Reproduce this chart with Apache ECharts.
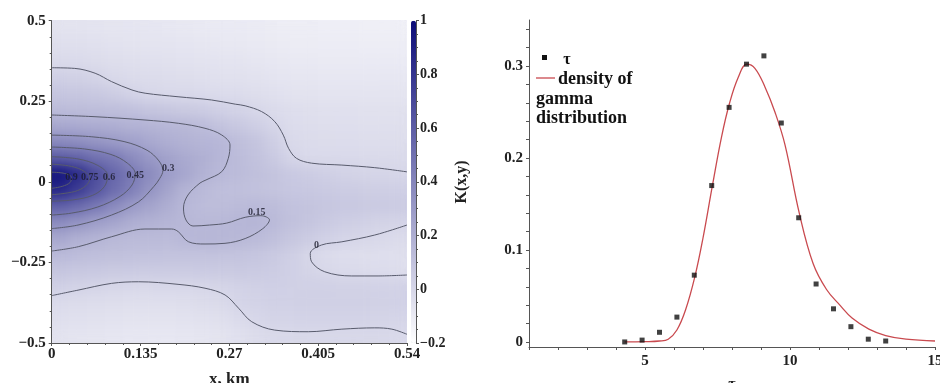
<!DOCTYPE html>
<html><head><meta charset="utf-8">
<script src="https://cdn.jsdelivr.net/npm/echarts@6/dist/echarts.min.js"></script>
<style>html,body{margin:0;padding:0;background:#fff}#c{width:940px;height:383px;position:relative}</style>
</head><body>
<svg width="0" height="0" style="position:absolute">
  <filter id="smooth" x="0" y="0" width="100%" height="100%" color-interpolation-filters="sRGB">
    <feGaussianBlur stdDeviation="6"/>
    <feComponentTransfer><feFuncA type="table" tableValues="1 1"/></feComponentTransfer>
  </filter>
</svg>
<div id="c"></div>
<script>
// ---------- Left panel: K(x,y) field (cell centres) ----------
const heatX = [0.0135,0.0405,0.0675,0.0945,0.1215,0.1485,0.1755,0.2025,0.2295,0.2565,0.2835,0.3105,0.3375,0.3645,0.3915,0.4185,0.4455,0.4725,0.4995,0.5265];
const heatY = [-0.475,-0.425,-0.375,-0.325,-0.275,-0.225,-0.175,-0.125,-0.075,-0.025,0.025,0.075,0.125,0.175,0.225,0.275,0.325,0.375,0.425,0.475];
const heatK = [
 [-0.06,-0.065,-0.07,-0.075,-0.08,-0.08,-0.08,-0.075,-0.07,-0.06,-0.045,-0.025,-0.01,-0.005,-0.005,-0.005,-0.005,-0.005,-0.005,-0.01],
 [-0.04,-0.045,-0.05,-0.055,-0.06,-0.06,-0.06,-0.055,-0.05,-0.04,-0.02,0.0,0.012,0.015,0.015,0.015,0.015,0.015,0.012,0.008],
 [-0.02,-0.025,-0.03,-0.035,-0.04,-0.04,-0.04,-0.035,-0.025,-0.015,0.005,0.015,0.025,0.03,0.03,0.03,0.03,0.03,0.028,0.025],
 [0.03,0.022,0.012,0.004,-0.004,-0.006,-0.004,0.0,0.004,0.012,0.022,0.03,0.035,0.036,0.034,0.03,0.028,0.028,0.026,0.024],
 [0.085,0.078,0.07,0.064,0.06,0.058,0.058,0.058,0.06,0.063,0.065,0.06,0.05,0.035,0.012,-0.006,-0.018,-0.024,-0.028,-0.03],
 [0.14,0.13,0.122,0.116,0.11,0.105,0.1,0.1,0.1,0.1,0.095,0.085,0.065,0.042,0.003,-0.02,-0.03,-0.035,-0.038,-0.04],
 [0.23,0.19,0.17,0.145,0.138,0.134,0.132,0.15,0.16,0.162,0.152,0.135,0.11,0.082,0.052,0.025,0.006,-0.002,-0.01,-0.02],
 [0.37,0.33,0.28,0.245,0.2,0.18,0.165,0.152,0.146,0.152,0.16,0.165,0.14,0.11,0.085,0.06,0.042,0.03,0.018,0.01],
 [0.58,0.53,0.46,0.38,0.3,0.25,0.2,0.15,0.13,0.125,0.135,0.14,0.125,0.105,0.09,0.08,0.07,0.065,0.06,0.055],
 [0.86,0.76,0.64,0.52,0.43,0.33,0.25,0.17,0.14,0.12,0.11,0.1,0.09,0.08,0.07,0.06,0.05,0.045,0.04,0.035],
 [0.95,0.84,0.68,0.55,0.46,0.38,0.29,0.24,0.18,0.15,0.13,0.11,0.09,0.07,0.05,0.035,0.02,0.012,0.006,0.002],
 [0.6,0.57,0.5,0.46,0.38,0.31,0.26,0.22,0.19,0.16,0.13,0.1,0.06,0.01,-0.01,-0.012,-0.014,-0.015,-0.015,-0.015],
 [0.38,0.36,0.33,0.3,0.27,0.23,0.2,0.18,0.165,0.155,0.12,0.09,0.04,-0.005,-0.02,-0.025,-0.028,-0.03,-0.03,-0.03],
 [0.225,0.22,0.21,0.2,0.18,0.17,0.16,0.152,0.13,0.1,0.07,0.04,0.005,-0.02,-0.03,-0.035,-0.038,-0.04,-0.04,-0.04],
 [0.13,0.128,0.122,0.115,0.105,0.088,0.075,0.064,0.05,0.033,0.015,0.0,-0.02,-0.03,-0.04,-0.045,-0.048,-0.05,-0.05,-0.05],
 [0.08,0.075,0.067,0.048,0.017,-0.003,-0.01,-0.014,-0.018,-0.022,-0.028,-0.035,-0.045,-0.055,-0.06,-0.065,-0.065,-0.065,-0.065,-0.065],
 [0.03,0.028,0.012,-0.01,-0.02,-0.025,-0.03,-0.035,-0.04,-0.045,-0.05,-0.058,-0.066,-0.072,-0.076,-0.08,-0.082,-0.082,-0.082,-0.082],
 [-0.015,-0.018,-0.025,-0.035,-0.042,-0.048,-0.052,-0.056,-0.06,-0.064,-0.068,-0.075,-0.082,-0.088,-0.092,-0.095,-0.097,-0.098,-0.098,-0.098],
 [-0.04,-0.043,-0.048,-0.055,-0.06,-0.065,-0.068,-0.072,-0.076,-0.08,-0.085,-0.09,-0.096,-0.1,-0.104,-0.107,-0.108,-0.11,-0.11,-0.11],
 [-0.06,-0.062,-0.066,-0.07,-0.074,-0.078,-0.082,-0.086,-0.09,-0.094,-0.098,-0.102,-0.106,-0.11,-0.113,-0.116,-0.118,-0.12,-0.12,-0.12]
];

// contour lines [x, y]
const contour0Top = [[0,0.354],[0.035,0.352],[0.066,0.337],[0.091,0.311],[0.122,0.285],[0.142,0.275],[0.192,0.264],[0.243,0.254],[0.279,0.241],[0.294,0.236],[0.319,0.218],[0.339,0.187],[0.352,0.145],[0.360,0.104],[0.372,0.073],[0.395,0.058],[0.441,0.052],[0.491,0.044],[0.54,0.031]];
const contour0Bottom = [[0,-0.353],[0.040,-0.336],[0.091,-0.315],[0.132,-0.310],[0.192,-0.318],[0.233,-0.330],[0.2635,-0.351],[0.284,-0.392],[0.304,-0.434],[0.339,-0.460],[0.390,-0.465],[0.441,-0.457],[0.491,-0.453],[0.517,-0.457],[0.54,-0.473]];
const contour0Right = [[0.54,-0.134],[0.491,-0.165],[0.441,-0.186],[0.410,-0.196],[0.393,-0.222],[0.395,-0.248],[0.415,-0.279],[0.456,-0.292],[0.496,-0.292],[0.54,-0.289]];
const contour015 = [[0,0.2074],[0.0658,0.2021],[0.1418,0.1919],[0.1924,0.1817],[0.233,0.1662],[0.2584,0.1454],[0.271,0.1144],[0.2684,0.0731],[0.2584,0.0315],[0.2345,0.0058],[0.2254,-0.0036],[0.2071,-0.0408],[0.2003,-0.0811],[0.2041,-0.1184],[0.2147,-0.137],[0.24,-0.134],[0.266,-0.128],[0.294,-0.11],[0.318,-0.105],[0.331,-0.118],[0.321,-0.145],[0.294,-0.176],[0.2634,-0.1907],[0.233,-0.1928],[0.2076,-0.1857],[0.1924,-0.1547],[0.1824,-0.1463],[0.1418,-0.1463],[0.0912,-0.1702],[0.0404,-0.2012],[0,-0.2146]];
const contour03 = [[0,0.145],[0.06,0.14],[0.11,0.125],[0.145,0.098],[0.163,0.065],[0.169,0.035],[0.164,0.01],[0.155,-0.015],[0.132,-0.062],[0.091,-0.103],[0.04,-0.134],[0,-0.145]];
const contour045 = [[0,0.108],[0.05,0.102],[0.09,0.085],[0.115,0.058],[0.127,0.025],[0.122,-0.01],[0.104,-0.045],[0.07,-0.078],[0.03,-0.097],[0,-0.103]];
const contour06 = [[0,0.078],[0.04,0.071],[0.07,0.051],[0.085,0.02],[0.08,-0.015],[0.062,-0.042],[0.032,-0.056],[0,-0.06]];
const contour075 = [[0,0.055],[0.03,0.048],[0.05,0.032],[0.058,0.01],[0.052,-0.012],[0.035,-0.03],[0,-0.04]];
const contour09 = [[0,0.03],[0.02,0.026],[0.03,0.014],[0.028,-0.002],[0.016,-0.014],[0,-0.02]];
const contourLabelText = ['0.9','0.75','0.6','0.45','0.3','0.15','0'];
const contourLabelX = [0.030,0.058,0.087,0.127,0.177,0.3115,0.4025];
const contourLabelY = [0.014,0.014,0.014,0.021,0.042,-0.094,-0.196];

// tick values
const leftXTicks = [0,0.135,0.27,0.405,0.54];
const leftYTicks = [-0.5,-0.25,0,0.25,0.5];
const colorTicks = [-0.2,0,0.2,0.4,0.6,0.8,1];
const rightXLabels = [5,10,15];
const rightYLabels = [0,0.1,0.2,0.3];
const rightYTicks = [0,0.02,0.04,0.06,0.08,0.1,0.12,0.14,0.16,0.18,0.2,0.22,0.24,0.26,0.28,0.3,0.32,0.34];

// ---------- Right panel ----------
const tauX = [4.3,4.9,5.5,6.1,6.7,7.3,7.9,8.5,9.1,9.7,10.3,10.9,11.5,12.1,12.7,13.3];
const tauY = [0,0.002,0.0105,0.027,0.0726,0.170,0.255,0.302,0.311,0.238,0.135,0.063,0.036,0.0166,0.003,0.001];
const densityX = [4.3,5.0,5.5,5.8,6.1,6.4,6.72,7.0,7.33,7.64,7.91,8.22,8.51,8.79,9.14,9.48,9.83,10.32,10.8,11.26,11.72,12.14,12.72,13.3,14,15];
const densityY = [0,0.0003,0.001,0.003,0.013,0.035,0.071,0.113,0.171,0.223,0.259,0.288,0.302,0.2975,0.277,0.25,0.214,0.14,0.085,0.057,0.04,0.026,0.014,0.007,0.003,0.001];

const serif = '"Liberation Serif","Times New Roman",serif';
const chart = echarts.init(document.getElementById('c'));
const heatData = [];
heatK.forEach((row, j) => row.forEach((v, i) => heatData.push([i, j, v])));
const zip = (xs, ys) => xs.map((x, i) => [x, ys[i]]);
const fmtMinus = s => s.replace('-', '\u2212');
const axisCol = '#555';
const lblStyle = {fontFamily: serif, fontWeight: 'bold', fontSize: 15, color: '#222'};
const ZL = 1; // everything except the shaded field sits on layer 1

const contours = [contour0Top, contour0Bottom, contour0Right, contour015, contour03, contour045, contour06, contour075, contour09];
const contourSeries = contours.map(c => ({
  type: 'line', xAxisIndex: 1, yAxisIndex: 1, data: c, showSymbol: false, symbol: 'none',
  smooth: 0.35, silent: true, zlevel: ZL, z: 3,
  lineStyle: {color: '#585b6c', width: 1}
}));

const leftRect = {left: 51.7, top: 20.7, width: 355.3, height: 322.3, containLabel: false, outerBoundsMode: 'none'};
const txt = (text, x, y, size, align) => ({type: 'text', zlevel: ZL,
  style: {text, x, y, font: 'bold ' + size + 'px ' + serif, fill: '#111',
    textAlign: align, align: align, textVerticalAlign: 'middle', verticalAlign: 'middle'}});

chart.setOption({
  animation: false,
  backgroundColor: 'rgba(0,0,0,0)',
  grid: [
    Object.assign({}, leftRect),
    Object.assign({}, leftRect),
    {left: 529, top: 20, width: 406, height: 327, containLabel: false, outerBoundsMode: 'none'},
    {left: 411, top: 20.7, width: 5, height: 322.3, containLabel: false, outerBoundsMode: 'none'}
  ],
  xAxis: [
    {gridIndex: 0, type: 'category', data: heatX.map(String), show: false},
    {gridIndex: 1, type: 'value', min: leftXTicks[0], max: leftXTicks[4], interval: 0.135, zlevel: ZL, z: 5,
      name: 'x, km', nameLocation: 'middle', nameGap: 28,
      nameTextStyle: {fontFamily: serif, fontWeight: 'bold', fontSize: 17, color: '#222'},
      axisLine: {onZero: false, lineStyle: {color: axisCol}}, axisTick: {length: 3, lineStyle: {color: axisCol}},
      minorTick: {show: true, splitNumber: 5, length: 2, lineStyle: {color: axisCol}},
      splitLine: {show: false},
      axisLabel: Object.assign({margin: 4, formatter: v => String(+v.toFixed(3))}, lblStyle)},
    {gridIndex: 2, type: 'value', min: 1, max: 15, interval: 1, zlevel: ZL,
      name: '\u03C4', nameLocation: 'middle', nameGap: 30,
      nameTextStyle: {fontFamily: serif, fontWeight: 'bold', fontSize: 16, color: '#222'},
      axisLine: {onZero: false, lineStyle: {color: axisCol}}, axisTick: {length: 3, lineStyle: {color: axisCol}},
      splitLine: {show: false},
      axisLabel: Object.assign({margin: 7, formatter: v => rightXLabels.includes(v) ? String(v) : ''}, lblStyle)},
    {gridIndex: 3, type: 'value', show: false, min: 0, max: 1, zlevel: ZL}
  ],
  yAxis: [
    {gridIndex: 0, type: 'category', data: heatY.map(String), show: false},
    {gridIndex: 1, type: 'value', min: leftYTicks[0], max: leftYTicks[4], interval: 0.25, zlevel: ZL, z: 5,
      axisLine: {onZero: false, lineStyle: {color: axisCol}}, axisTick: {length: 3, lineStyle: {color: axisCol}},
      minorTick: {show: true, splitNumber: 5, length: 2, lineStyle: {color: axisCol}},
      splitLine: {show: false},
      axisLabel: Object.assign({margin: 6, formatter: v => fmtMinus(String(+v.toFixed(2)))}, lblStyle)},
    {gridIndex: 2, type: 'value', min: -0.0055, max: 0.35, zlevel: ZL,
      axisLine: {show: true, onZero: false, lineStyle: {color: axisCol}},
      axisTick: {show: true, length: 3, customValues: rightYTicks, lineStyle: {color: axisCol}},
      splitLine: {show: false},
      axisLabel: Object.assign({margin: 6, customValues: rightYLabels, formatter: v => String(+(+v).toFixed(2))}, lblStyle)},
    {gridIndex: 3, type: 'value', position: 'right', min: colorTicks[0], max: colorTicks[6], interval: 0.2, zlevel: ZL, z: 5,
      name: 'K(x,y)', nameLocation: 'middle', nameGap: 38, nameRotate: 90,
      nameTextStyle: {fontFamily: serif, fontWeight: 'bold', fontSize: 16, color: '#222'},
      axisLine: {show: true, onZero: false, lineStyle: {color: axisCol}}, axisTick: {show: true, length: 3, lineStyle: {color: axisCol}},
      minorTick: {show: true, splitNumber: 4, length: 2, lineStyle: {color: axisCol}},
      splitLine: {show: false},
      axisLabel: Object.assign({margin: 4, formatter: v => fmtMinus(String(+v.toFixed(1)))}, lblStyle, {fontSize: 14})}
  ],
  visualMap: {
    type: 'continuous', min: colorTicks[0], max: colorTicks[6], seriesIndex: 0, zlevel: ZL,
    left: 411, top: 20.7, itemWidth: 5, itemHeight: 322.3, padding: 0,
    calculable: false, hoverLink: false, text: null, showLabel: false,
    inRange: {color: ['#ffffff', '#0c0c78']}
  },
  graphic: {elements: [
    {type: 'rect', zlevel: ZL, shape: {x: 542, y: 55, width: 5, height: 5}, style: {fill: '#111'}},
    txt('\u03C4', 567, 60, 16, 'center'),
    {type: 'line', zlevel: ZL, shape: {x1: 536, y1: 78, x2: 555, y2: 78}, style: {stroke: '#c94a4f', lineWidth: 1.3}},
    txt('density of', 558, 79, 18, 'left'),
    txt('gamma', 536, 99, 18, 'left'),
    txt('distribution', 536, 118, 18, 'left')
  ]},
  series: [
    {type: 'heatmap', xAxisIndex: 0, yAxisIndex: 0, data: heatData, silent: true, zlevel: 0, z: 1, emphasis: {disabled: true}}
  ].concat(contourSeries).concat([
    {type: 'scatter', xAxisIndex: 1, yAxisIndex: 1, symbolSize: 0, silent: true, zlevel: ZL, z: 4,
      data: contourLabelText.map((t, i) => ({name: t, value: [contourLabelX[i], contourLabelY[i]]})),
      label: {show: true, position: 'inside', formatter: p => p.name, fontFamily: serif, fontWeight: 'bold', fontSize: 10, color: '#1a1a2a'}},
    {type: 'line', xAxisIndex: 2, yAxisIndex: 2, data: zip(densityX, densityY), showSymbol: false, symbol: 'none',
      smooth: 0.4, lineStyle: {color: '#c94a4f', width: 1.3}, zlevel: ZL, z: 2},
    {type: 'scatter', xAxisIndex: 2, yAxisIndex: 2, data: zip(tauX, tauY), symbol: 'rect', symbolSize: 5,
      itemStyle: {color: '#111'}, zlevel: ZL, z: 3}
  ])
});

// soften the cell edges of the shaded field (visual smoothing of layer 0 only), clipped to the plot area
try {
  const layer = chart.getZr().painter.getLayer(0);
  layer.dom.style.filter = 'url(#smooth)';
  layer.dom.style.clipPath = 'inset(20.7px 533px 40px 51.7px)';
} catch (e) {}
</script>
</body></html>
